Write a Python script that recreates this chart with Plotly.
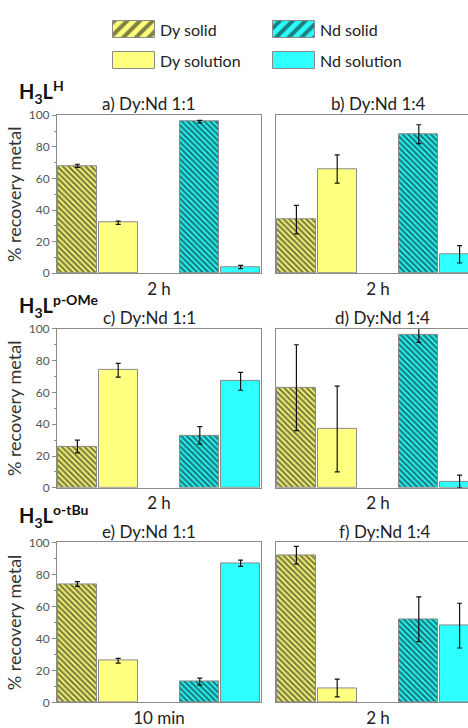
import plotly.graph_objects as go

# ---------------- data ----------------
series = ["Dy solid", "Dy solution", "Nd solid", "Nd solution"]
panel_titles = ["a) Dy:Nd 1:1", "b) Dy:Nd 1:4", "c) Dy:Nd 1:1", "d) Dy:Nd 1:4", "e) Dy:Nd 1:1", "f) Dy:Nd 1:4"]
time_labels = ["2 h", "2 h", "2 h", "2 h", "10 min", "2 h"]
ligands = ["<b>H<sub>3</sub>L<sup>H</sup></b>", "<b>H<sub>3</sub>L<sup>p-OMe</sup></b>", "<b>H<sub>3</sub>L<sup>o-tBu</sup></b>"]

dy_solid = [68, 34, 26, 63, 74, 92]
dy_solid_err = [1, 9, 4, 27, 1.5, 5.5]
dy_solution = [32, 66, 74, 37, 26, 9]
dy_solution_err = [1, 9, 4.3, 27, 1.5, 5.5]
nd_solid = [96, 88, 33, 96, 13, 52]
nd_solid_err = [0.8, 6, 5.5, 4.5, 2.2, 14]
nd_solution = [4, 12, 67, 4, 87, 48]
nd_solution_err = [1, 5.5, 5.6, 4, 2, 14]

values = [dy_solid, dy_solution, nd_solid, nd_solution]
errors = [dy_solid_err, dy_solution_err, nd_solid_err, nd_solution_err]
slots = [0, 1, 3, 4]
y_ticks = [0, 20, 40, 60, 80, 100]

# ---------------- styles ----------------
W, H = 468, 728
FONT = "Lato"
YELLOW = "#FFFF80"
CYAN = "#2EFFFF"
styles = [
    dict(bg=YELLOW, hatch=True),
    dict(bg=YELLOW, hatch=False),
    dict(bg=CYAN, hatch=True),
    dict(bg=CYAN, hatch=False),
]

def px(x):
    return x / W

def py(y):
    return 1 - y / H

col_x = [(57, 261), (276, 468)]
row_y = [(110, 272), (329, 492), (548, 712)]
slot_px = 40.8

fig = go.Figure()
layout = dict(
    width=W, height=H, margin=dict(l=0, r=0, t=0, b=0),
    paper_bgcolor="white", plot_bgcolor="white",
    font=dict(family=FONT, color="#222"),
    showlegend=False, bargap=0, barmode="overlay",
)
annotations = []

for i in range(6):
    r, c = divmod(i, 2)
    n = i + 1
    xs = "" if n == 1 else str(n)
    x0, x1 = col_x[c]
    ytop, ybot = row_y[r]
    xmax = -0.5 + (x1 - x0) / slot_px
    for s in range(4):
        st = styles[s]
        marker = dict(color=st["bg"], line=dict(color="#8a8a8a", width=1))
        if st["hatch"]:
            marker["pattern"] = dict(shape="\\", size=4, solidity=0.6, fgcolor="#000", bgcolor=st["bg"])
        fig.add_trace(go.Bar(
            x=[slots[s]], y=[values[s][i]], width=0.95,
            marker=marker, name=series[s],
            error_y=dict(type="data", array=[errors[s][i]], color="#111", thickness=1.2, width=2.5),
            xaxis="x" + xs, yaxis="y" + xs, showlegend=False,
        ))
    layout["xaxis" + xs] = dict(
        domain=[px(x0), min(px(x1), 1)], range=[-0.5, xmax], anchor="y" + xs,
        showline=True, mirror=True, linecolor="#8a8a8a", linewidth=1,
        showgrid=False, zeroline=False, ticks="",
        tickvals=[2], ticktext=[time_labels[i]], tickfont=dict(size=17, color="#222", family=FONT),
        fixedrange=True,
    )
    yax = dict(
        domain=[py(ybot), py(ytop)], range=[0, 100], anchor="x" + xs,
        showline=True, linecolor="#8a8a8a", linewidth=1,
        showgrid=False, zeroline=False, fixedrange=True,
    )
    if c == 0:
        yax.update(
            mirror=True, ticks="outside", ticklen=4, tickcolor="#8a8a8a",
            tickvals=y_ticks, tickfont=dict(size=12, color="#555", family=FONT),
            minor=dict(ticks="outside", ticklen=2, tickcolor="#8a8a8a", dtick=10, tick0=0),
            title=dict(text="% recovery metal", font=dict(size=18, color="#333", family=FONT), standoff=2),
        )
    else:
        yax.update(mirror=False, ticks="", showticklabels=False)
    layout["yaxis" + xs] = yax

# panel titles
title_pos = [(149, 98), (378, 98), (149, 317), (382, 317), (149, 537), (385, 537)]
for i, (tx, ty) in enumerate(title_pos):
    annotations.append(dict(text=panel_titles[i], x=px(tx), y=py(ty), xref="paper", yref="paper",
                            showarrow=False, xanchor="center", yanchor="middle",
                            font=dict(size=17, color="#222", family=FONT)))

# ligand labels
lig_y = [86, 306, 521]
for k, ly in enumerate(lig_y):
    annotations.append(dict(text=ligands[k], x=px(17), y=py(ly), xref="paper", yref="paper",
                            showarrow=False, xanchor="left", yanchor="middle",
                            font=dict(size=20, color="#111", family=FONT)))

# custom legend (swatches drawn in a hidden helper axis measured in pixels)
layout["xaxis7"] = dict(domain=[0, 1], range=[0, W], visible=False, anchor="y7", fixedrange=True)
layout["yaxis7"] = dict(domain=[py(75), 1], range=[75, 0], visible=False, anchor="x7", fixedrange=True)
leg_pos = [(134, 13), (134, 45), (294, 13), (294, 45)]
for s in range(4):
    st = styles[s]
    lx, ly = leg_pos[s]
    marker = dict(color=st["bg"], line=dict(color="#8a8a8a", width=1))
    if st["hatch"]:
        marker["pattern"] = dict(shape="/", size=9, solidity=0.45, fgcolor="#000", bgcolor=st["bg"])
    fig.add_trace(go.Bar(x=[lx], y=[18], base=[ly], width=[42], marker=marker,
                         xaxis="x7", yaxis="y7", showlegend=False, hoverinfo="skip"))
    annotations.append(dict(text=series[s], x=lx + 24, y=ly + 9, xref="x7", yref="y7",
                            showarrow=False, xanchor="left", yanchor="middle",
                            font=dict(size=16, color="#222", family=FONT)))

layout["annotations"] = annotations
fig.update_layout(**layout)
fig.write_html("out.html", config={"displayModeBar": False},
               post_script="document.body.style.margin='0';document.body.style.overflow='hidden';")
